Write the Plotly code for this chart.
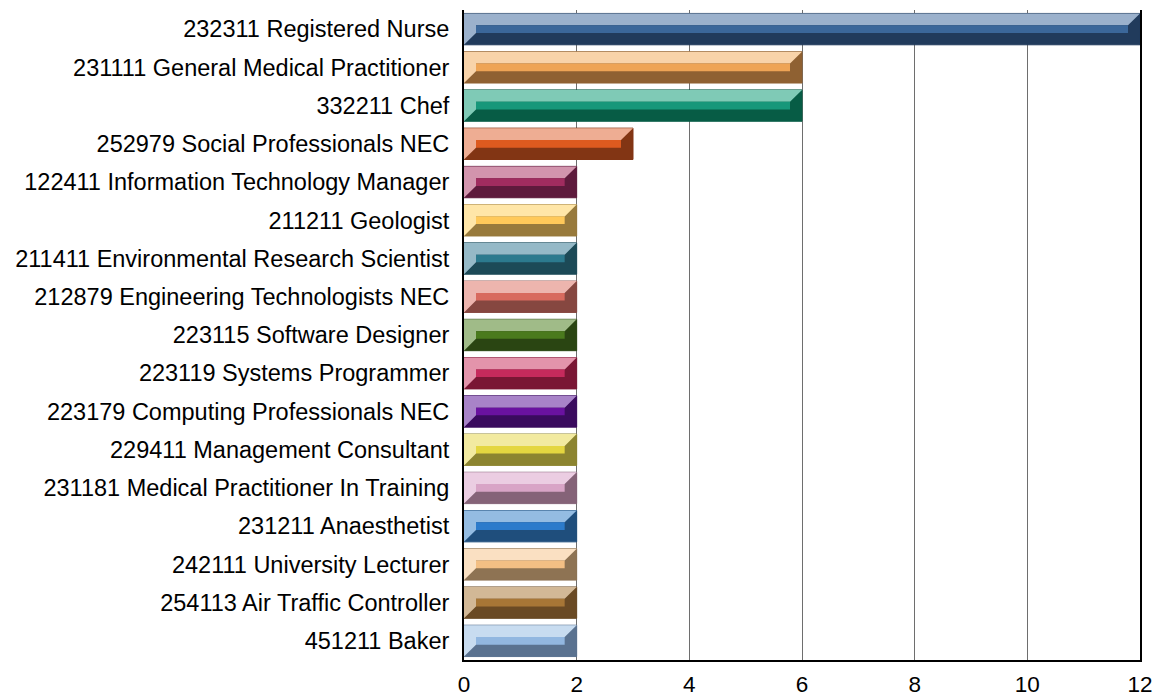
import plotly.graph_objects as go

categories = [
    "232311 Registered Nurse",
    "231111 General Medical Practitioner",
    "332211 Chef",
    "252979 Social Professionals NEC",
    "122411 Information Technology Manager",
    "211211 Geologist",
    "211411 Environmental Research Scientist",
    "212879 Engineering Technologists NEC",
    "223115 Software Designer",
    "223119 Systems Programmer",
    "223179 Computing Professionals NEC",
    "229411 Management Consultant",
    "231181 Medical Practitioner In Training",
    "231211 Anaesthetist",
    "242111 University Lecturer",
    "254113 Air Traffic Controller",
    "451211 Baker",
]
values = [12, 6, 6, 3, 2, 2, 2, 2, 2, 2, 2, 2, 2, 2, 2, 2, 2]

light_colors = ["#9BB1CC", "#F8D3A9", "#7FCAB6", "#EEAD93", "#D294AD", "#FFE6A8",
                "#95B9C7", "#EDB5AE", "#A0BB88", "#E394AB", "#A883C8", "#F2EAA0",
                "#EBCDE2", "#94BCE2", "#FAE0C2", "#D2B896", "#C8DCF0"]
mid_colors = ["#3B679A", "#EEA455", "#17977A", "#DD5A1F", "#A02C5F", "#FFC95A",
              "#2C7A8E", "#D86A5E", "#4A7A1D", "#C62A5C", "#6A12A0", "#E4D640",
              "#D8A4C6", "#2C7BCB", "#F3BF84", "#A77636", "#92B7E0"]
dark_colors = ["#213B5C", "#8F6132", "#075C45", "#823514", "#5E1A3C", "#987A3C",
               "#1C4A57", "#864740", "#2A4512", "#7A1634", "#3A0B5E", "#8C8430",
               "#856378", "#1F4E7C", "#8E7353", "#6A4A24", "#5A7290"]

x_ticks = [0, 2, 4, 6, 8, 10, 12]

# geometry (in axis units)
HALF = 0.41      # half bar thickness (category units)
DY = 0.31        # bevel depth vertical
DX = 0.213       # bevel depth horizontal

positions = list(range(len(categories)))

fig = go.Figure()

# outer (dark) bars
fig.add_trace(go.Bar(
    y=positions, x=values, orientation="h", width=2 * HALF,
    marker=dict(color=dark_colors, line=dict(color=dark_colors, width=1)),
    hoverinfo="skip", showlegend=False,
))

for i, v in enumerate(values):
    top = i - HALF
    bot = i + HALF
    # light bevel polygon (top band + left strip)
    lx = [0, v, v - DX, DX, DX, 0, 0]
    ly = [top, top, top + DY, top + DY, bot - DY, bot, top]
    fig.add_trace(go.Scatter(
        x=lx, y=ly, mode="lines", fill="toself", fillcolor=light_colors[i],
        line=dict(width=0, color=light_colors[i]), hoverinfo="skip", showlegend=False,
    ))
    # inner mid band
    mx = [DX, v - DX, v - DX, DX, DX]
    my = [top + DY, top + DY, bot - DY, bot - DY, top + DY]
    fig.add_trace(go.Scatter(
        x=mx, y=my, mode="lines", fill="toself", fillcolor=mid_colors[i],
        line=dict(width=0, color=mid_colors[i]), hoverinfo="skip", showlegend=False,
    ))

fig.update_layout(
    width=1162, height=695,
    margin=dict(l=456, r=30, t=2, b=43),
    plot_bgcolor="white", paper_bgcolor="white",
    font=dict(family="Liberation Sans, Arial, sans-serif", size=23, color="black"),
    showlegend=False,
    xaxis=dict(
        range=[0, 12], tickvals=x_ticks, showgrid=True, gridcolor="#6E6E6E", gridwidth=1,
        showline=True, linecolor="black", linewidth=2, zeroline=False,
        ticks="", ticklabelstandoff=3, fixedrange=True, tickfont=dict(size=22.5),
    ),
    yaxis=dict(
        range=[len(categories) - 0.5, -0.5], tickvals=positions, ticktext=categories,
        showgrid=False, showline=True, mirror=True, linecolor="black", linewidth=2,
        zeroline=False, ticks="", ticklabelstandoff=8, fixedrange=True,
        tickfont=dict(size=23.5),
    ),
)

fig.write_html("out.html")
